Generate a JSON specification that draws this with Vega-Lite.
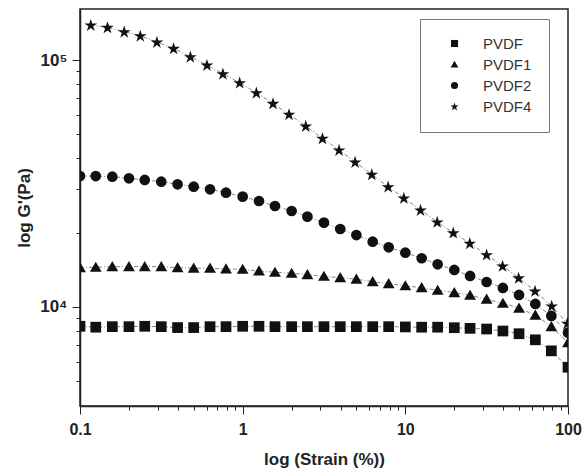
{
  "$schema": "https://vega.github.io/schema/vega-lite/v6.json",
  "width": 488,
  "height": 397,
  "autosize": "none",
  "padding": {"left": 80, "top": 9, "right": 15, "bottom": 68},
  "background": "white",
  "config": {
    "view": {"stroke": "#222", "strokeWidth": 1.5},
    "font": "Liberation Sans"
  },
  "datasets": {
    "pts": [
      {"s": "PVDF", "strain": 0.1, "G": 8350},
      {"s": "PVDF", "strain": 0.125, "G": 8280},
      {"s": "PVDF", "strain": 0.158, "G": 8320},
      {"s": "PVDF", "strain": 0.2, "G": 8320},
      {"s": "PVDF", "strain": 0.25, "G": 8350},
      {"s": "PVDF", "strain": 0.316, "G": 8320},
      {"s": "PVDF", "strain": 0.398, "G": 8250},
      {"s": "PVDF", "strain": 0.5, "G": 8250},
      {"s": "PVDF", "strain": 0.63, "G": 8320},
      {"s": "PVDF", "strain": 0.79, "G": 8320},
      {"s": "PVDF", "strain": 1.0, "G": 8350},
      {"s": "PVDF", "strain": 1.26, "G": 8350},
      {"s": "PVDF", "strain": 1.58, "G": 8320},
      {"s": "PVDF", "strain": 2.0, "G": 8320},
      {"s": "PVDF", "strain": 2.5, "G": 8320},
      {"s": "PVDF", "strain": 3.16, "G": 8320},
      {"s": "PVDF", "strain": 3.98, "G": 8320},
      {"s": "PVDF", "strain": 5.0, "G": 8320},
      {"s": "PVDF", "strain": 6.3, "G": 8320},
      {"s": "PVDF", "strain": 7.9, "G": 8320},
      {"s": "PVDF", "strain": 10, "G": 8300},
      {"s": "PVDF", "strain": 12.6, "G": 8280},
      {"s": "PVDF", "strain": 15.8, "G": 8280},
      {"s": "PVDF", "strain": 20, "G": 8240},
      {"s": "PVDF", "strain": 25, "G": 8190},
      {"s": "PVDF", "strain": 31.6, "G": 8140},
      {"s": "PVDF", "strain": 39.8, "G": 7990},
      {"s": "PVDF", "strain": 50, "G": 7790},
      {"s": "PVDF", "strain": 63, "G": 7360},
      {"s": "PVDF", "strain": 79, "G": 6640},
      {"s": "PVDF", "strain": 100, "G": 5700},

      {"s": "PVDF1", "strain": 0.1, "G": 14430},
      {"s": "PVDF1", "strain": 0.125, "G": 14480},
      {"s": "PVDF1", "strain": 0.158, "G": 14570},
      {"s": "PVDF1", "strain": 0.2, "G": 14570},
      {"s": "PVDF1", "strain": 0.25, "G": 14570},
      {"s": "PVDF1", "strain": 0.316, "G": 14570},
      {"s": "PVDF1", "strain": 0.398, "G": 14430},
      {"s": "PVDF1", "strain": 0.5, "G": 14350},
      {"s": "PVDF1", "strain": 0.63, "G": 14350},
      {"s": "PVDF1", "strain": 0.79, "G": 14250},
      {"s": "PVDF1", "strain": 1.0, "G": 14210},
      {"s": "PVDF1", "strain": 1.26, "G": 13990},
      {"s": "PVDF1", "strain": 1.58, "G": 13820},
      {"s": "PVDF1", "strain": 2.0, "G": 13690},
      {"s": "PVDF1", "strain": 2.5, "G": 13520},
      {"s": "PVDF1", "strain": 3.16, "G": 13310},
      {"s": "PVDF1", "strain": 3.98, "G": 13140},
      {"s": "PVDF1", "strain": 5.0, "G": 12950},
      {"s": "PVDF1", "strain": 6.3, "G": 12660},
      {"s": "PVDF1", "strain": 7.9, "G": 12430},
      {"s": "PVDF1", "strain": 10, "G": 12180},
      {"s": "PVDF1", "strain": 12.6, "G": 11970},
      {"s": "PVDF1", "strain": 15.8, "G": 11680},
      {"s": "PVDF1", "strain": 20, "G": 11430},
      {"s": "PVDF1", "strain": 25, "G": 11150},
      {"s": "PVDF1", "strain": 31.6, "G": 10750},
      {"s": "PVDF1", "strain": 39.8, "G": 10350},
      {"s": "PVDF1", "strain": 50, "G": 9880},
      {"s": "PVDF1", "strain": 63, "G": 9260},
      {"s": "PVDF1", "strain": 79, "G": 8320},
      {"s": "PVDF1", "strain": 100, "G": 7170},

      {"s": "PVDF2", "strain": 0.1, "G": 33910},
      {"s": "PVDF2", "strain": 0.125, "G": 33910},
      {"s": "PVDF2", "strain": 0.158, "G": 33690},
      {"s": "PVDF2", "strain": 0.2, "G": 33200},
      {"s": "PVDF2", "strain": 0.25, "G": 32680},
      {"s": "PVDF2", "strain": 0.316, "G": 32160},
      {"s": "PVDF2", "strain": 0.398, "G": 31390},
      {"s": "PVDF2", "strain": 0.5, "G": 30690},
      {"s": "PVDF2", "strain": 0.63, "G": 29960},
      {"s": "PVDF2", "strain": 0.79, "G": 29030},
      {"s": "PVDF2", "strain": 1.0, "G": 27970},
      {"s": "PVDF2", "strain": 1.26, "G": 26860},
      {"s": "PVDF2", "strain": 1.58, "G": 25640},
      {"s": "PVDF2", "strain": 2.0, "G": 24470},
      {"s": "PVDF2", "strain": 2.5, "G": 23210},
      {"s": "PVDF2", "strain": 3.16, "G": 21950},
      {"s": "PVDF2", "strain": 3.98, "G": 20690},
      {"s": "PVDF2", "strain": 5.0, "G": 19560},
      {"s": "PVDF2", "strain": 6.3, "G": 18380},
      {"s": "PVDF2", "strain": 7.9, "G": 17440},
      {"s": "PVDF2", "strain": 10, "G": 16590},
      {"s": "PVDF2", "strain": 12.6, "G": 15750},
      {"s": "PVDF2", "strain": 15.8, "G": 14890},
      {"s": "PVDF2", "strain": 20, "G": 14120},
      {"s": "PVDF2", "strain": 25, "G": 13350},
      {"s": "PVDF2", "strain": 31.6, "G": 12620},
      {"s": "PVDF2", "strain": 39.8, "G": 11940},
      {"s": "PVDF2", "strain": 50, "G": 11180},
      {"s": "PVDF2", "strain": 63, "G": 10280},
      {"s": "PVDF2", "strain": 79, "G": 9200},
      {"s": "PVDF2", "strain": 100, "G": 7870},

      {"s": "PVDF4", "strain": 0.1165, "G": 138600},
      {"s": "PVDF4", "strain": 0.1476, "G": 135700},
      {"s": "PVDF4", "strain": 0.187, "G": 130200},
      {"s": "PVDF4", "strain": 0.2347, "G": 125400},
      {"s": "PVDF4", "strain": 0.297, "G": 118300},
      {"s": "PVDF4", "strain": 0.376, "G": 111500},
      {"s": "PVDF4", "strain": 0.477, "G": 103100},
      {"s": "PVDF4", "strain": 0.603, "G": 95460},
      {"s": "PVDF4", "strain": 0.756, "G": 88000},
      {"s": "PVDF4", "strain": 0.958, "G": 80950},
      {"s": "PVDF4", "strain": 1.214, "G": 73720},
      {"s": "PVDF4", "strain": 1.536, "G": 66780},
      {"s": "PVDF4", "strain": 1.927, "G": 60290},
      {"s": "PVDF4", "strain": 2.442, "G": 54060},
      {"s": "PVDF4", "strain": 3.094, "G": 48190},
      {"s": "PVDF4", "strain": 3.914, "G": 43210},
      {"s": "PVDF4", "strain": 4.911, "G": 38640},
      {"s": "PVDF4", "strain": 6.22, "G": 34450},
      {"s": "PVDF4", "strain": 7.84, "G": 30690},
      {"s": "PVDF4", "strain": 9.79, "G": 27630},
      {"s": "PVDF4", "strain": 12.4, "G": 24700},
      {"s": "PVDF4", "strain": 15.7, "G": 22090},
      {"s": "PVDF4", "strain": 19.7, "G": 19990},
      {"s": "PVDF4", "strain": 24.9, "G": 18110},
      {"s": "PVDF4", "strain": 31.6, "G": 16280},
      {"s": "PVDF4", "strain": 39.6, "G": 14660},
      {"s": "PVDF4", "strain": 49.7, "G": 13110},
      {"s": "PVDF4", "strain": 62.7, "G": 11610},
      {"s": "PVDF4", "strain": 79.4, "G": 10090},
      {"s": "PVDF4", "strain": 99, "G": 8590}
    ]
  },
  "data": {"name": "pts"},
  "encoding": {
    "x": {
      "field": "strain",
      "type": "quantitative",
      "scale": {"type": "log", "domain": [0.1, 100], "nice": false},
      "axis": {
        "title": "log (Strain (%))",
        "titleFont": "Liberation Sans",
        "titleFontSize": 17,
        "titleFontWeight": "bold",
        "titleColor": "#222",
        "titlePadding": 14,
        "values": [0.1, 0.2, 0.3, 0.4, 0.5, 0.6, 0.7, 0.8, 0.9, 1, 2, 3, 4, 5, 6, 7, 8, 9, 10, 20, 30, 40, 50, 60, 70, 80, 90, 100],
        "labelExpr": "datum.value == 0.1 ? '0.1' : datum.value == 1 ? '1' : datum.value == 10 ? '10' : datum.value == 100 ? '100' : ''",
        "labelFont": "Liberation Sans",
        "labelFontSize": 16,
        "labelFontWeight": "bold",
        "labelColor": "#222",
        "labelPadding": 7,
        "labelFlush": false,
        "labelOverlap": false,
        "grid": false,
        "domainColor": "#222",
        "domainWidth": 1.5,
        "tickColor": "#222",
        "tickWidth": 1,
        "tickSize": 8,
        "tickDash": {"condition": {"test": "datum.value == 0.1 || datum.value == 1 || datum.value == 10 || datum.value == 100", "value": [8, 0]}, "value": [4, 8]}
      }
    },
    "y": {
      "field": "G",
      "type": "quantitative",
      "scale": {"type": "log", "domain": [3970, 161000], "nice": false},
      "axis": {
        "title": "log G'(Pa)",
        "titleFont": "Liberation Sans",
        "titleFontSize": 17,
        "titleFontWeight": "bold",
        "titleColor": "#222",
        "titlePadding": 6,
        "values": [5000, 6000, 7000, 8000, 9000, 10000, 20000, 30000, 40000, 50000, 60000, 70000, 80000, 90000, 100000],
        "labelExpr": "datum.value == 10000 ? '10⁴' : datum.value == 100000 ? '10⁵' : ''",
        "labelFont": "Liberation Sans",
        "labelFontSize": 17,
        "labelFontWeight": "bold",
        "labelColor": "#222",
        "labelPadding": 5,
        "labelOverlap": false,
        "grid": false,
        "domainColor": "#222",
        "domainWidth": 1.5,
        "tickColor": "#222",
        "tickWidth": 1,
        "tickSize": 8,
        "tickDash": {"condition": {"test": "datum.value == 10000 || datum.value == 100000", "value": [8, 0]}, "value": [4, 8]}
      }
    }
  },
  "layer": [
    {
      "mark": {"type": "line", "color": "#666", "strokeWidth": 0.8, "strokeDash": [4, 2, 1, 2], "clip": true},
      "encoding": {"detail": {"field": "s"}}
    },
    {
      "mark": {"type": "point", "filled": true, "color": "#111", "opacity": 1, "size": 115, "clip": true},
      "encoding": {
        "shape": {
          "field": "s",
          "type": "nominal",
          "scale": {"domain": ["PVDF", "PVDF1", "PVDF2", "PVDF4"], "range": ["square", "M0,-1.05L1.1,0.85L-1.1,0.85Z", "circle", "M0,-1.15L0.28,-0.29L1.19,-0.29L0.45,0.24L0.74,1.1L0,0.57L-0.74,1.1L-0.45,0.24L-1.19,-0.29L-0.28,-0.29Z"]},
          "legend": {
            "title": null,
            "orient": "none",
            "legendX": 340,
            "legendY": 10,
            "padding": 17,
            "symbolOffset": 10,
            "strokeColor": "#777",
            "fillColor": "white",
            "symbolSize": 50,
            "symbolFillColor": "#111",
            "symbolStrokeColor": "#111",
            "symbolStrokeWidth": 0,
            "labelFont": "Liberation Sans",
            "labelFontSize": 15,
            "labelColor": "#333",
            "labelOffset": 21,
            "rowPadding": 5
          }
        }
      }
    }
  ]
}
